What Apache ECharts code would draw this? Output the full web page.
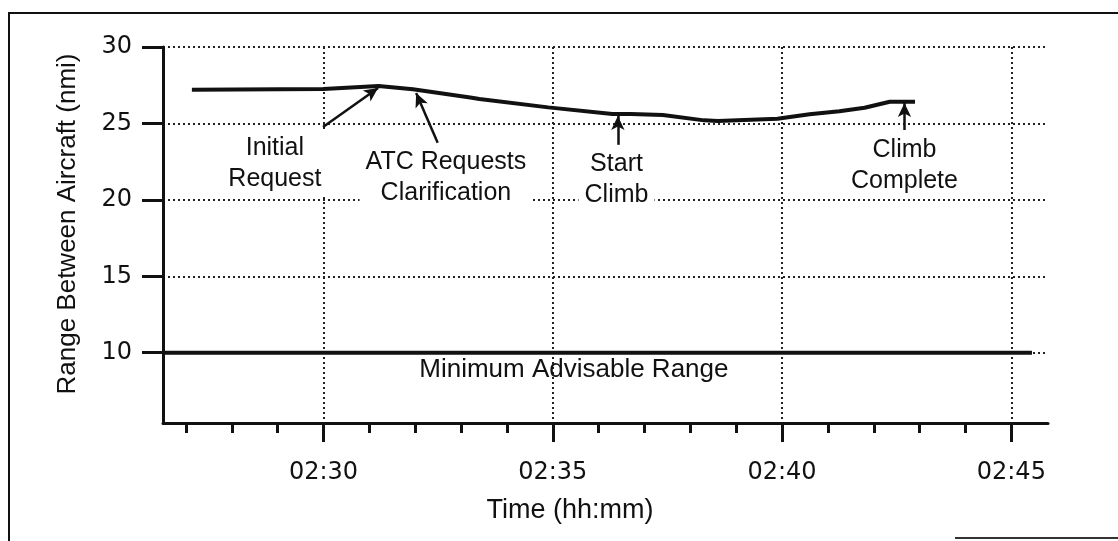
<!DOCTYPE html>
<html>
<head>
<meta charset="utf-8">
<script src="https://cdn.jsdelivr.net/npm/echarts@6/dist/echarts.min.js"></script>
<style>
  html, body { margin: 0; padding: 0; background: #fff; }
  #container { width: 1118px; height: 541px; }
</style>
</head>
<body>
<div id="container"></div>
<script>
    // time in minutes after 02:00, range in nmi
    var times  = [27.13, 30.0, 31.2, 31.95, 33.2, 33.4, 34.9, 36.3, 36.7, 37.4, 38.3, 38.6, 39.9, 40.6, 41.25, 41.8, 42.35, 42.9];
    var ranges = [27.2, 27.25, 27.45, 27.23, 26.7, 26.6, 26.05, 25.62, 25.62, 25.55, 25.2, 25.16, 25.3, 25.6, 25.8, 26.03, 26.42, 26.42];

    var minRange = 10;
    var minRangeEnd = 45.45;
    var minRangeText = 'Minimum Advisable Range';
    var minRangeTextAt = [35.46, 8.86];

    var xMajor = [30, 35, 40, 45];
    var xMinor = [27, 28, 29, 30, 31, 32, 33, 34, 35, 36, 37, 38, 39, 40, 41, 42, 43, 44, 45];
    var yTicks = [10, 15, 20, 25, 30];

    // annotations: text centre, arrow tail, arrow tip
    var noteText  = ['Initial\nRequest', 'ATC Requests\nClarification', 'Start\nClimb', 'Climb\nComplete'];
    var noteAt    = [[28.94, 22.34], [32.67, 21.46], [36.39, 21.30], [42.67, 22.24]];
    var arrowFrom = [[29.99, 24.77], [32.49, 23.73], [36.42, 23.6], [42.67, 24.57]];
    var arrowTo   = [[31.19, 27.32], [32.02, 26.99], [36.42, 25.49], [42.67, 26.34]];

    var textFont = 'Liberation Sans';
    var numFont = 'DejaVu Sans';
    var dotted = { color: '#222', width: 2, type: [2, 3] };

    var lineData = times.map(function (t, i) { return [t, ranges[i]]; });
    var notes = noteText.map(function (s, i) {
        return { name: s, coord: noteAt[i] };
    });
    notes.push({
        name: minRangeText, coord: minRangeTextAt,
        label: { backgroundColor: 'transparent', fontSize: 26 }
    });
    var arrows = arrowFrom.map(function (p, i) {
        return [{ coord: p }, { coord: arrowTo[i] }];
    });

    var option = {
        backgroundColor: '#fff',
        animation: false,
        graphic: [
            { type: 'polyline', shape: { points: [[9, 541], [9, 13], [1118, 13]] }, style: { stroke: '#111', lineWidth: 2, fill: null } },
            { type: 'line', shape: { x1: 955, y1: 538, x2: 1118, y2: 538 }, style: { stroke: '#333', lineWidth: 2 } }
        ],
        grid: { left: 163, right: 70, top: 47, bottom: 118, containLabel: false, outerBoundsMode: 'none' },
        xAxis: [
            {
                type: 'value', min: 26.5, max: 45.8, position: 'bottom',
                name: 'Time (hh:mm)', nameLocation: 'middle', nameGap: 74,
                nameTextStyle: { fontFamily: textFont, fontSize: 27, color: '#111', padding: [0, 71, 0, 0] },
                axisLine: { lineStyle: { color: '#111', width: 3 } },
                axisTick: { length: 19, lineStyle: { color: '#111', width: 3 }, customValues: xMajor },
                axisLabel: {
                    customValues: xMajor, margin: 38, color: '#111', fontFamily: numFont, fontSize: 24,
                    formatter: function (v) { return '02:' + v; }
                },
                splitLine: { show: true, lineStyle: dotted }
            },
            {
                type: 'value', min: 26.5, max: 45.8, position: 'bottom',
                axisLine: { show: false },
                axisTick: { length: 10, lineStyle: { color: '#111', width: 3 }, customValues: xMinor },
                axisLabel: { show: false },
                splitLine: { show: false }
            }
        ],
        yAxis: {
            type: 'value', min: 5.4, max: 30,
            name: 'Range Between Aircraft (nmi)', nameLocation: 'middle', nameGap: 82,
            nameTextStyle: { fontFamily: textFont, fontSize: 26, color: '#111', padding: [0, 0, 0, 22] },
            axisLine: { show: true, lineStyle: { color: '#111', width: 3 } },
            axisTick: { show: true, length: 21, lineStyle: { color: '#111', width: 3 }, customValues: yTicks },
            axisLabel: { customValues: yTicks, margin: 31, color: '#111', fontFamily: numFont, fontSize: 24 },
            splitLine: { show: true, lineStyle: dotted }
        },
        series: [
            {
                name: 'Range',
                type: 'line',
                data: lineData,
                showSymbol: false,
                lineStyle: { color: '#111', width: 4 },
                z: 5,
                markLine: {
                    silent: true,
                    symbol: ['none', 'arrow'],
                    symbolSize: [10, 14],
                    label: { show: false },
                    lineStyle: { color: '#111', width: 2.5, type: 'solid' },
                    data: arrows
                },
                markPoint: {
                    silent: true,
                    symbol: 'circle',
                    symbolSize: 0,
                    label: {
                        show: true, position: 'inside', formatter: '{b}',
                        fontFamily: textFont, fontSize: 25, lineHeight: 31, color: '#111',
                        backgroundColor: '#fff', padding: [2, 6], align: 'center'
                    },
                    data: notes
                }
            },
            {
                name: 'Minimum',
                type: 'line',
                data: [[26.5, minRange], [minRangeEnd, minRange]],
                showSymbol: false,
                lineStyle: { color: '#111', width: 4 },
                z: 4
            }
        ]
    };
    var myChart = echarts.init(document.getElementById('container'));
    myChart.setOption(option);
</script>
</body>
</html>
